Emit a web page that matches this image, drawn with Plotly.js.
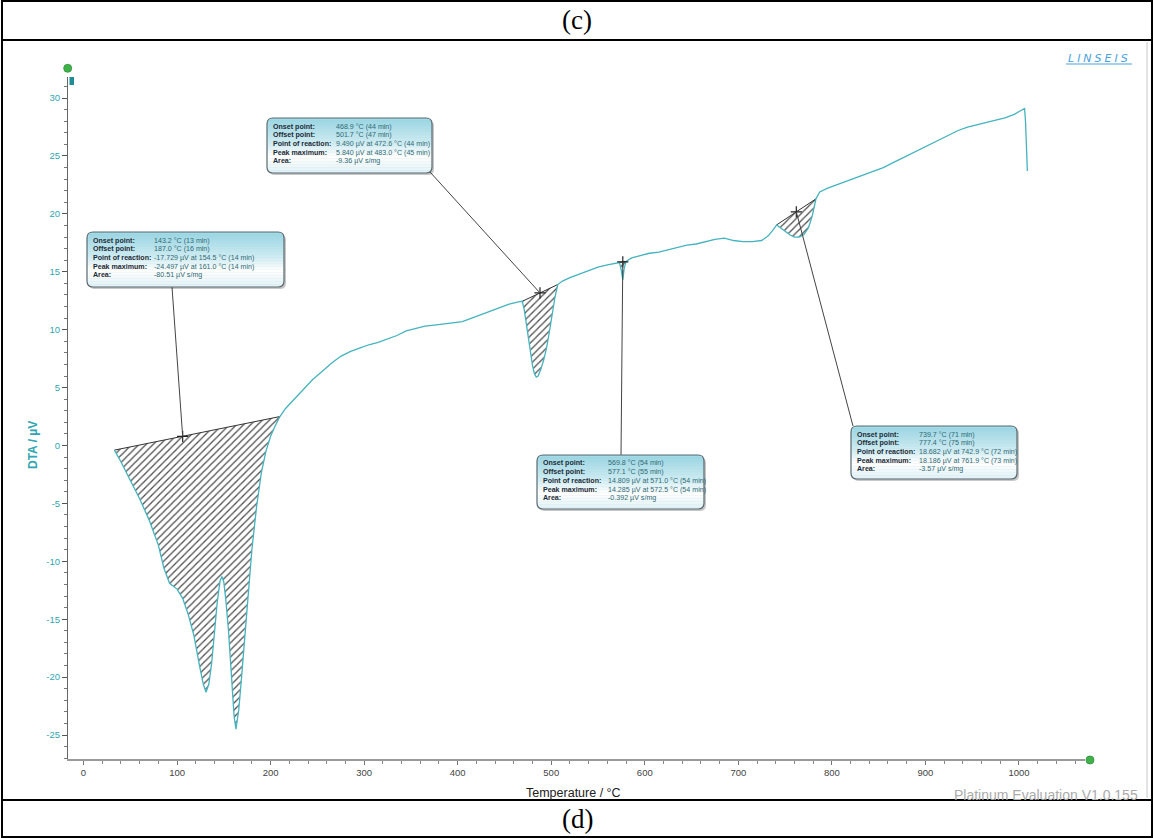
<!DOCTYPE html>
<html><head><meta charset="utf-8">
<script src="https://cdn.plot.ly/plotly-3.0.1.min.js"></script>
<style>html,body{margin:0;padding:0;background:#fff;}#chart{width:1154px;height:838px;}</style>
</head><body><div id="chart"></div>
<script>
// ---------------- data ----------------
const temperature = [33,40,50,60,70,80,86,92,100,106,112,118,124,128,131,134,137,140,143,146,148,150,152,155,158,161,163,166,169,172,176,180,185,190,195,200,205,210,216,225,235,245,255,265,275,285,295,305,315,325,335,345,355,365,375,385,395,405,415,425,435,445,455,465,469,471,474,477,480,482,484,486,489,492,495,498,501,504,507,512,520,530,540,550,560,567,573,575,576.5,578,580,586,595,605,615,625,635,645,655,665,675,685,695,705,715,725,732,737,741,745,750,755,760,765,770,775,779,783,787,795,805,815,825,835,845,855,865,875,885,895,905,915,925,935,945,955,965,975,985,995,1003,1006,1007,1008,1009];
const dta = [-0.4,-1.4,-3.0,-4.6,-6.4,-8.6,-10.6,-11.9,-12.4,-13.2,-14.6,-16.4,-19.0,-20.6,-21.3,-20.6,-18.8,-16.3,-13.5,-11.7,-11.3,-11.8,-13.2,-16.0,-19.8,-23.4,-24.5,-22.8,-20.0,-17.0,-13.2,-9.0,-5.3,-2.4,-0.5,0.8,1.7,2.5,3.2,4.0,4.9,5.7,6.4,7.1,7.7,8.1,8.4,8.7,8.9,9.2,9.5,9.9,10.1,10.3,10.4,10.5,10.6,10.7,11.0,11.3,11.6,11.9,12.2,12.4,12.45,11.8,10.2,8.4,6.9,6.2,5.9,6.0,6.6,7.4,8.4,9.8,11.3,12.8,13.9,14.2,14.5,14.8,15.1,15.4,15.6,15.7,15.8,15.1,14.3,15.3,15.9,16.2,16.4,16.6,16.7,16.9,17.1,17.3,17.4,17.6,17.8,17.9,17.7,17.6,17.6,17.7,18.1,18.6,19.05,18.8,18.5,18.2,18.0,18.0,18.2,18.8,19.8,21.3,21.9,22.2,22.5,22.8,23.1,23.4,23.7,24.0,24.4,24.8,25.2,25.6,26.0,26.4,26.8,27.2,27.5,27.7,27.9,28.1,28.3,28.6,29.0,29.1,28.0,25.5,23.7];

const peakOnset = [33, 469, 573, 741];
const peakOffset = [210, 507, 580, 783];
const markerT = [106, 488, 576.5, 762];

const xTickVals = [0,100,200,300,400,500,600,700,800,900,1000];
const xTickText = ['0','100','200','300','400','500','600','700','800','900','1000'];
const yTickVals = [-25,-20,-15,-10,-5,0,5,10,15,20,25,30];
const yTickText = ['-25','-20','-15','-10','-5','0','5','10','15','20','25','30'];

const boxLabels = ['Onset point:','Offset point:','Point of reaction:','Peak maximum:','Area:'];
const boxValues1 = ['143.2 °C (13 min)','187.0 °C (16 min)','-17.729 µV at 154.5 °C (14 min)','-24.497 µV at 161.0 °C (14 min)','-80.51 µV s/mg'];
const boxValues2 = ['468.9 °C (44 min)','501.7 °C (47 min)','9.490 µV at 472.6 °C (44 min)','5.840 µV at 483.0 °C (45 min)','-9.36 µV s/mg'];
const boxValues3 = ['569.8 °C (54 min)','577.1 °C (55 min)','14.809 µV at 571.0 °C (54 min)','14.285 µV at 572.5 °C (54 min)','-0.392 µV s/mg'];
const boxValues4 = ['739.7 °C (71 min)','777.4 °C (75 min)','18.682 µV at 742.9 °C (72 min)','18.186 µV at 761.9 °C (73 min)','-3.57 µV s/mg'];
const boxValues = [boxValues1, boxValues2, boxValues3, boxValues4];

const xTitle = 'Temperature / °C';
const yTitle = 'DTA / µV';

// ---------------- geometry ----------------
const W = 1154, H = 838, ML = 68, MR = 69, MT = 77, MB = 79;
const PW = W - ML - MR, PH = H - MT - MB;
const xRange = [-16.57, 1070.6], yRange = [-27.07, 31.82];
const px = x => (x - ML) / PW;
const py = y => (H - MB - y) / PH;
const pxData = x => xRange[0] + (x - ML) / PW * (xRange[1] - xRange[0]);
const pyData = y => yRange[0] + (H - MB - y) / PH * (yRange[1] - yRange[0]);

const boxes = [
  {x0:87, y0:232, x1:284, y1:287, vx:152, ax:172, ay:287},
  {x0:267, y0:118, x1:432, y1:173, vx:334, ax:430, ay:172},
  {x0:537, y0:455, x1:704, y1:509, vx:606, ax:621, ay:455},
  {x0:851, y0:426, x1:1017, y1:479, vx:917, ax:853, ay:426}
];

const TEAL = '#45b3bf';
const traces = [];
const shapes = [];
const annotations = [];

function valAt(t) {
  for (let i = 0; i < temperature.length - 1; i++) {
    if (t >= temperature[i] && t <= temperature[i+1]) {
      const f = (t - temperature[i]) / (temperature[i+1] - temperature[i]);
      return dta[i] + f * (dta[i+1] - dta[i]);
    }
  }
  return dta[dta.length-1];
}

// hatched peak areas + baselines
for (let k = 0; k < peakOnset.length; k++) {
  const xs = [], ys = [];
  temperature.forEach((t, i) => { if (t >= peakOnset[k] && t <= peakOffset[k]) { xs.push(t); ys.push(dta[i]); } });
  traces.push({type:'scatter', mode:'lines', x:xs, y:ys, fill:'toself',
    fillcolor:'rgba(255,255,255,0)',
    fillpattern:{shape:'/', fgcolor:'#4d4d4d', bgcolor:'rgba(255,255,255,0)', size:5, solidity:0.25},
    line:{width:0, color:'rgba(0,0,0,0)'}, hoverinfo:'skip', showlegend:false});
  const v0 = valAt(peakOnset[k]), v1 = valAt(peakOffset[k]);
  traces.push({type:'scatter', mode:'lines', x:[peakOnset[k], peakOffset[k]], y:[v0, v1],
    line:{color:'#333', width:1}, hoverinfo:'skip', showlegend:false});
}

// main curve
traces.push({type:'scatter', mode:'lines', x:temperature, y:dta, line:{color:TEAL, width:1.3}, hoverinfo:'skip', showlegend:false});

// markers on baselines
const markerV = markerT.map((t, k) => {
  const v0 = valAt(peakOnset[k]), v1 = valAt(peakOffset[k]);
  return v0 + (t - peakOnset[k]) / (peakOffset[k] - peakOnset[k]) * (v1 - v0);
});
traces.push({type:'scatter', mode:'markers', x:markerT, y:markerV,
  marker:{symbol:'cross-thin', size:8, line:{color:'#222', width:1.2}}, hoverinfo:'skip', showlegend:false});

// leader lines
boxes.forEach((b, k) => {
  shapes.push({type:'line', xref:'x', yref:'y', x0:markerT[k], y0:markerV[k], x1:pxData(b.ax), y1:pyData(b.ay),
    line:{color:'#444', width:1}});
});

// rounded rectangle path in paper coords
function rrPath(x0, y0, x1, y1, r) {
  const P = (x, y) => px(x) + ',' + py(y);
  return 'M' + P(x0+r, y0) + ' L' + P(x1-r, y0) + ' Q' + P(x1, y0) + ' ' + P(x1, y0+r) +
    ' L' + P(x1, y1-r) + ' Q' + P(x1, y1) + ' ' + P(x1-r, y1) +
    ' L' + P(x0+r, y1) + ' Q' + P(x0, y1) + ' ' + P(x0, y1-r) +
    ' L' + P(x0, y0+r) + ' Q' + P(x0, y0) + ' ' + P(x0+r, y0) + ' Z';
}
function mix(a, b, f) { return a.map((v, i) => Math.round(v + (b[i]-v)*f)); }
function bandColor(t) {
  const c0 = [150,212,226], c1 = [205,236,243], c2 = [255,255,255], c3 = [222,242,247];
  let c;
  if (t < 0.45) c = mix(c0, c1, t/0.45);
  else if (t < 0.7) c = mix(c1, c2, (t-0.45)/0.25);
  else c = mix(c2, c3, (t-0.7)/0.3);
  return 'rgb(' + c.join(',') + ')';
}

boxes.forEach((b) => {
  const r = 6;
  shapes.push({type:'path', xref:'paper', yref:'paper', path:rrPath(b.x0+2, b.y0+2, b.x1+2, b.y1+2, r),
    fillcolor:'rgba(0,0,0,0.22)', line:{width:0}, layer:'above'});
  const step = 1.5;
  for (let y = b.y0; y < b.y1; y += step) {
    const yc = y + step/2;
    const d = Math.min(yc - b.y0, b.y1 - yc);
    let inset = 0;
    if (d < r) inset = r - Math.sqrt(Math.max(0, r*r - (r-d)*(r-d)));
    shapes.push({type:'rect', xref:'paper', yref:'paper', x0:px(b.x0+inset), x1:px(b.x1-inset),
      y0:py(Math.min(y+step+0.3, b.y1)), y1:py(y), fillcolor:bandColor((yc-b.y0)/(b.y1-b.y0)), line:{width:0}, layer:'above'});
  }
  shapes.push({type:'path', xref:'paper', yref:'paper', path:rrPath(b.x0, b.y0, b.x1, b.y1, r),
    fillcolor:'rgba(0,0,0,0)', line:{color:'#5a6a70', width:1.2}, layer:'above'});
});

// box texts
const boxFont = 'Liberation Sans, Arial, sans-serif';
boxes.forEach((b, k) => {
  boxLabels.forEach((lab, i) => {
    const yy = b.y0 + 8.5 + i * 8.7;
    annotations.push({xref:'paper', yref:'paper', x:px(b.x0 + 4), y:py(yy), xanchor:'left', yanchor:'middle',
      text:'<b>' + lab + '</b>', showarrow:false, font:{family:boxFont, size:7.1, color:'#1d2b36'}});
    annotations.push({xref:'paper', yref:'paper', x:px(b.vx), y:py(yy), xanchor:'left', yanchor:'middle',
      text:boxValues[k][i], showarrow:false, font:{family:boxFont, size:7.1, color:'#2f6b74'}});
  });
});

// frame lines (table around the figure)
const frameLine = {color:'#000', width:2};
shapes.push({type:'rect', xref:'paper', yref:'paper', x0:px(2), x1:px(1152), y0:py(837), y1:py(1), line:frameLine, fillcolor:'rgba(0,0,0,0)'});
shapes.push({type:'line', xref:'paper', yref:'paper', x0:px(2), x1:px(1152), y0:py(40), y1:py(40), line:frameLine});
shapes.push({type:'line', xref:'paper', yref:'paper', x0:px(2), x1:px(1152), y0:py(800), y1:py(800), line:frameLine});
shapes.push({type:'line', xref:'paper', yref:'paper', x0:px(1147), x1:px(1147), y0:py(42), y1:py(798), line:{color:'#c8c8c8', width:1}});

// green handles and teal marker
shapes.push({type:'circle', xref:'paper', yref:'paper', x0:px(63.7), x1:px(71.7), y0:py(72.3), y1:py(64.3), fillcolor:'#3fb34a', line:{color:'#2e8f37', width:0.8}});
shapes.push({type:'circle', xref:'paper', yref:'paper', x0:px(1086), x1:px(1094), y0:py(764), y1:py(756), fillcolor:'#3fb34a', line:{color:'#2e8f37', width:0.8}});
shapes.push({type:'rect', xref:'paper', yref:'paper', x0:px(69.5), x1:px(74), y0:py(85), y1:py(77), fillcolor:'#1f8d99', line:{width:0}});

// logo underline
shapes.push({type:'line', xref:'paper', yref:'paper', x0:px(1066), x1:px(1132), y0:py(64), y1:py(64), line:{color:'#4aa3dc', width:1}});

// other texts
annotations.push({xref:'paper', yref:'paper', x:px(577), y:py(20), xanchor:'center', yanchor:'middle', text:'(c)', showarrow:false,
  font:{family:'Liberation Serif, Times New Roman, serif', size:27, color:'#000'}});
annotations.push({xref:'paper', yref:'paper', x:px(577), y:py(819), xanchor:'center', yanchor:'middle', text:'(d)', showarrow:false,
  font:{family:'Liberation Serif, Times New Roman, serif', size:27, color:'#000'}});
annotations.push({xref:'paper', yref:'paper', x:px(1099), y:py(58), xanchor:'center', yanchor:'middle',
  text:'<span style="letter-spacing:3px">LINSEIS</span>', showarrow:false,
  font:{family:'DejaVu Sans, sans-serif', size:11, color:'#4aa3dc', style:'italic'}});
annotations.push({xref:'paper', yref:'paper', x:px(1140), y:py(795), xanchor:'right', yanchor:'middle', text:'Platinum Evaluation V1.0.155', showarrow:false,
  font:{family:'Liberation Sans, Arial, sans-serif', size:14, color:'#ababab'}});
annotations.push({xref:'paper', yref:'paper', x:px(573), y:py(793), xanchor:'center', yanchor:'middle', text:xTitle, showarrow:false,
  font:{family:'Liberation Sans, Arial, sans-serif', size:12.5, color:'#222'}});
annotations.push({xref:'paper', yref:'paper', x:px(33), y:py(445), xanchor:'center', yanchor:'middle', text:'<b>' + yTitle + '</b>', textangle:-90, showarrow:false,
  font:{family:'Liberation Sans, Arial, sans-serif', size:12, color:'#2fa5b3'}});

const layout = {
  width: W, height: H,
  margin: {l:ML, r:MR, t:MT, b:MB, pad:0},
  paper_bgcolor:'#fff', plot_bgcolor:'#fff',
  showlegend:false,
  xaxis: {range:xRange, showgrid:false, zeroline:false, showline:true, linecolor:'#9a9a9a', linewidth:1.5,
    ticks:'outside', ticklen:4, tickcolor:'#777', tickvals:xTickVals, ticktext:xTickText,
    tickfont:{family:'Liberation Sans, Arial, sans-serif', size:9.5, color:'#444'},
    minor:{dtick:20, tick0:0, ticks:'outside', ticklen:3, tickcolor:'#888'}},
  yaxis: {range:yRange, showgrid:false, zeroline:false, showline:true, linecolor:'#666', linewidth:1,
    ticks:'outside', ticklen:5, tickcolor:'#555', tickvals:yTickVals, ticktext:yTickText,
    tickfont:{family:'Liberation Sans, Arial, sans-serif', size:9.5, color:'#33a6b4'},
    minor:{dtick:1, tick0:0, ticks:'outside', ticklen:3, tickcolor:'#777'}},
  shapes: shapes,
  annotations: annotations
};

Plotly.newPlot('chart', traces, layout, {displayModeBar:false, staticPlot:true});
</script>
</body></html>
